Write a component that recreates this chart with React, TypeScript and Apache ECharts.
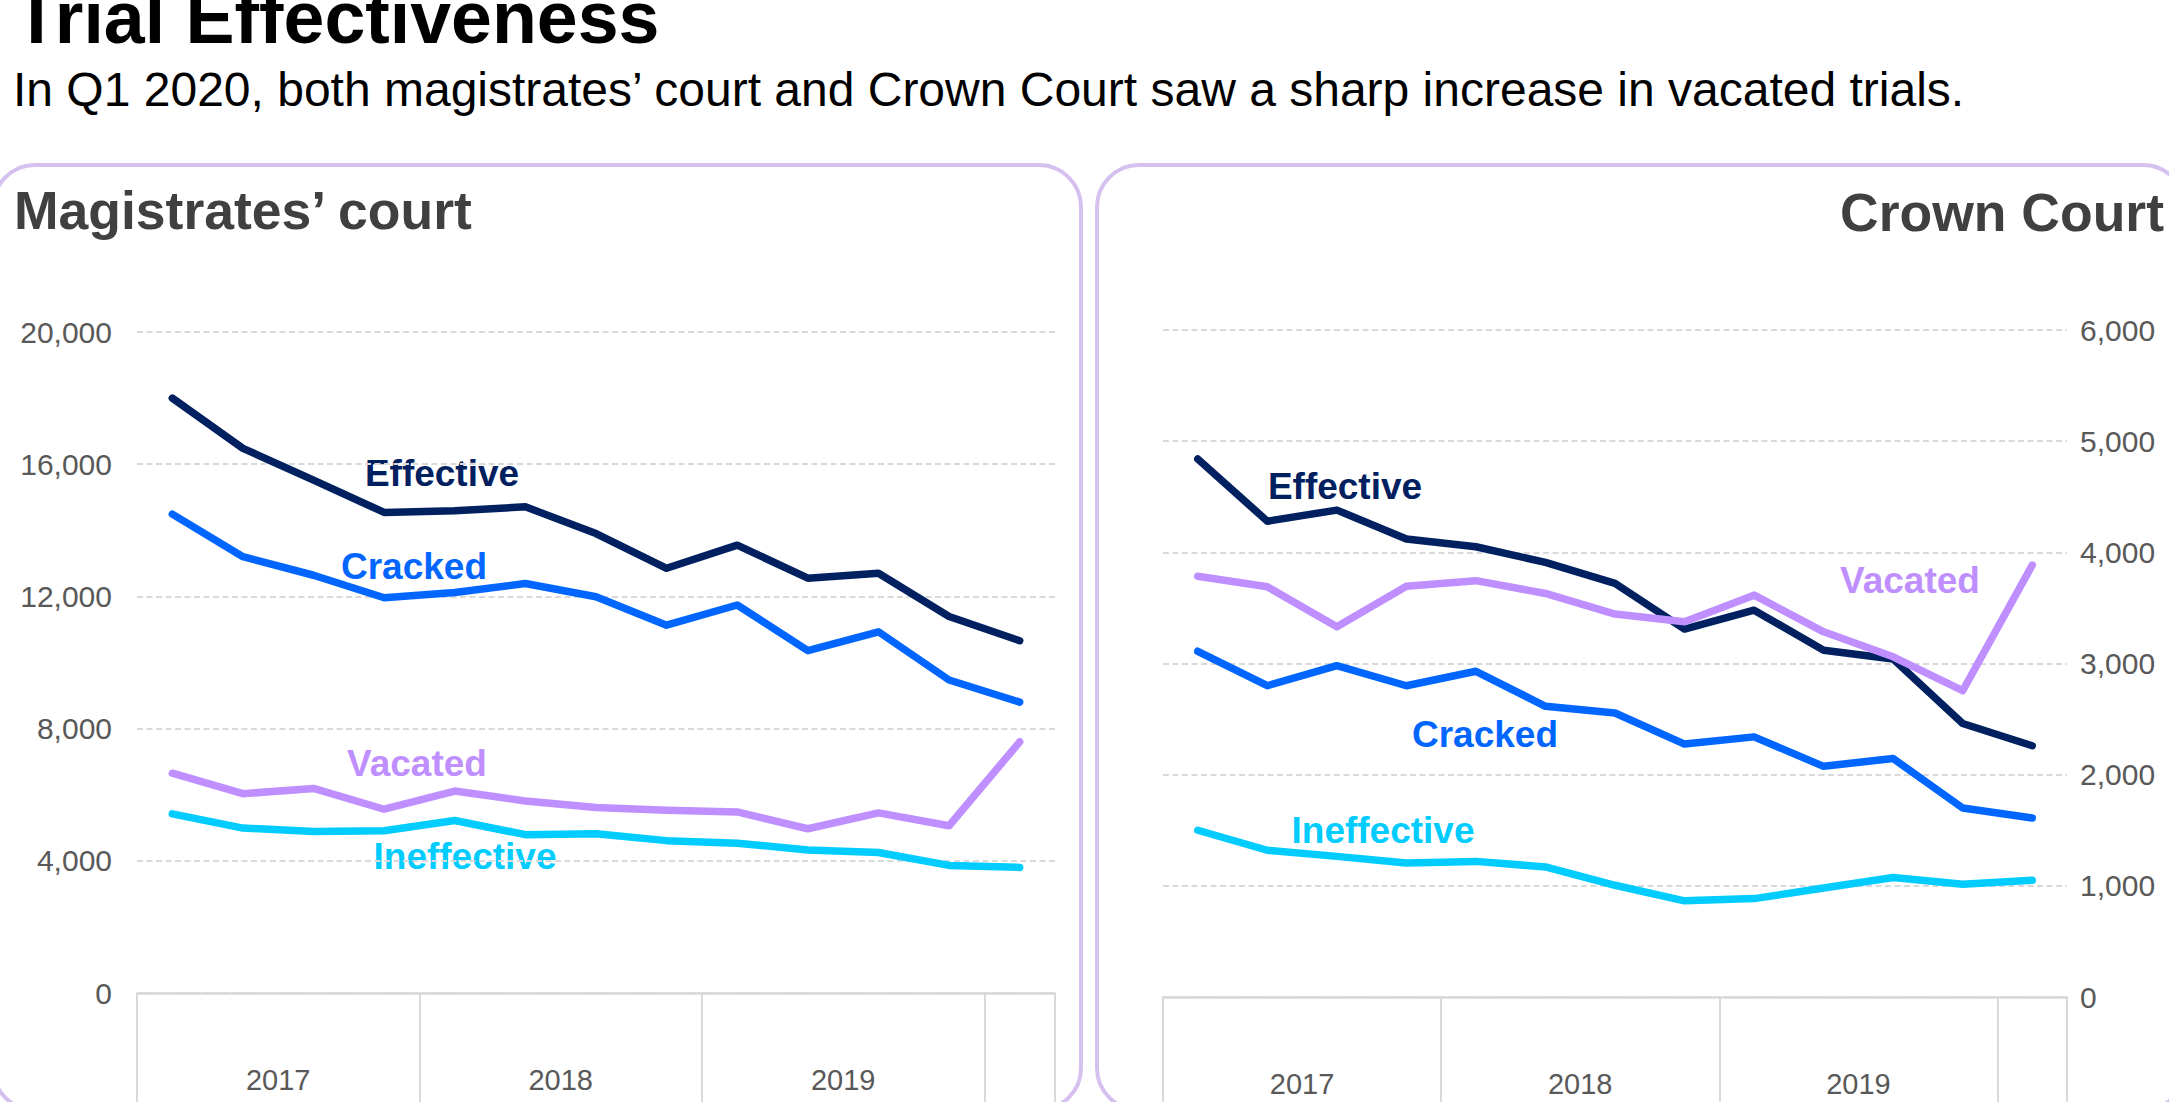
import React, { useEffect, useRef } from "react";
import * as echarts from "echarts";

const FONT = "'Liberation Sans', Arial, Helvetica, sans-serif";

const quarters = [
  "2017 Q1", "2017 Q2", "2017 Q3", "2017 Q4",
  "2018 Q1", "2018 Q2", "2018 Q3", "2018 Q4",
  "2019 Q1", "2019 Q2", "2019 Q3", "2019 Q4",
  "2020 Q1",
];
// year group labels, placed on quarter boundaries (0..13)
const yearLabels = ["", "", "2017", "", "", "", "2018", "", "", "", "2019", "", "", ""];

const magEffective = [18000, 16480, 15520, 14540, 14590, 14710, 13900, 12850, 13550, 12550, 12700, 11390, 10660];
const magCracked = [14490, 13200, 12640, 11960, 12120, 12390, 11990, 11130, 11740, 10360, 10930, 9470, 8800];
const magVacated = [6650, 6030, 6190, 5560, 6110, 5810, 5610, 5530, 5480, 4970, 5450, 5060, 7600];
const magIneffective = [5420, 4990, 4890, 4910, 5220, 4790, 4820, 4610, 4530, 4330, 4250, 3860, 3800];

const crownEffective = [4840, 4280, 4380, 4120, 4050, 3910, 3720, 3310, 3480, 3120, 3040, 2460, 2260];
const crownCracked = [3110, 2800, 2980, 2800, 2930, 2615, 2555, 2275, 2340, 2075, 2145, 1700, 1610];
const crownVacated = [3785, 3690, 3330, 3695, 3745, 3630, 3445, 3375, 3615, 3285, 3060, 2755, 3885];
const crownIneffective = [1500, 1320, 1265, 1205, 1220, 1170, 1005, 865, 885, 980, 1075, 1015, 1050];

const magAxis = { min: 0, max: 20000, interval: 4000 };
const crownAxis = { min: 0, max: 6000, interval: 1000 };

const COLORS = {
  Effective: "#002060",
  Cracked: "#0066ff",
  Vacated: "#bf8fff",
  Ineffective: "#00ccff",
};

const GRID_COLOR = "#d9d9d9";
const LABEL_COLOR = "#595959";
const PANEL_COLOR = "#d5c0ef";

function lineSeries(name: string, data: number[], xi: number, yi: number) {
  return {
    type: "line",
    name,
    data,
    xAxisIndex: xi,
    yAxisIndex: yi,
    showSymbol: false,
    symbol: "none",
    lineStyle: {
      color: (COLORS as any)[name],
      width: 7.5,
      cap: "round",
      join: "round",
    },
    silent: true,
  };
}

function tickAxis(gridIndex: number) {
  return {
    type: "category",
    gridIndex,
    data: quarters,
    position: "bottom",
    boundaryGap: true,
    axisLine: { show: true, lineStyle: { color: GRID_COLOR, width: 2.5 } },
    axisTick: {
      show: true,
      interval: (index: number) => index % 4 === 0,
      length: 110,
      lineStyle: { color: GRID_COLOR, width: 2 },
    },
    axisLabel: { show: false },
    splitLine: { show: false },
  };
}

function yearAxis(gridIndex: number) {
  return {
    type: "category",
    gridIndex,
    data: yearLabels,
    position: "bottom",
    boundaryGap: false,
    axisLine: { show: false },
    axisTick: { show: false },
    axisLabel: {
      show: true,
      interval: 0,
      margin: 72,
      fontSize: 29,
      fontFamily: FONT,
      color: LABEL_COLOR,
    },
    splitLine: { show: false },
  };
}

function valueAxis(
  gridIndex: number,
  cfg: { min: number; max: number; interval: number },
  position: string,
  margin: number
) {
  return {
    type: "value",
    gridIndex,
    position,
    min: cfg.min,
    max: cfg.max,
    interval: cfg.interval,
    axisLine: { show: false },
    axisTick: { show: false },
    axisLabel: {
      show: true,
      margin,
      fontSize: 30,
      fontFamily: FONT,
      color: LABEL_COLOR,
      formatter: (v: number) => v.toLocaleString("en-US"),
    },
    splitLine: {
      show: true,
      lineStyle: { color: GRID_COLOR, width: 2, type: [6, 3.5] },
    },
  };
}

function txt(text: string, x: number, y: number, size: number, color: string, weight: string, align = "center") {
  return {
    type: "text",
    x,
    y,
    silent: true,
    style: {
      text,
      fill: color,
      font: `${weight} ${size}px ${FONT}`,
      fontSize: size,
      fontWeight: weight,
      fontFamily: FONT,
      align,
      textAlign: align,
      verticalAlign: "middle",
      textVerticalAlign: "middle",
    },
  };
}

export default function App() {
  const ref = useRef<HTMLDivElement>(null);

  useEffect(() => {
    if (!ref.current) return;
    const chart = echarts.init(ref.current, null, { renderer: "svg" });
    const option = {
      animation: false,
      backgroundColor: "#ffffff",
      grid: [
        { left: 137, top: 332, width: 918, height: 661 },
        { left: 1163, top: 330, width: 904, height: 667 },
      ],
      xAxis: [tickAxis(0), yearAxis(0), tickAxis(1), yearAxis(1)],
      yAxis: [valueAxis(0, magAxis, "left", 25), valueAxis(1, crownAxis, "right", 13)],
      series: [
        lineSeries("Effective", magEffective, 0, 0),
        lineSeries("Cracked", magCracked, 0, 0),
        lineSeries("Ineffective", magIneffective, 0, 0),
        lineSeries("Vacated", magVacated, 0, 0),
        lineSeries("Effective", crownEffective, 2, 1),
        lineSeries("Cracked", crownCracked, 2, 1),
        lineSeries("Ineffective", crownIneffective, 2, 1),
        lineSeries("Vacated", crownVacated, 2, 1),
      ],
      graphic: [
        {
          type: "rect",
          silent: true,
          shape: { x: -7, y: 165, width: 1088, height: 945, r: 42 },
          style: { fill: "none", stroke: PANEL_COLOR, lineWidth: 4 },
        },
        {
          type: "rect",
          silent: true,
          shape: { x: 1097, y: 165, width: 1088, height: 945, r: 42 },
          style: { fill: "none", stroke: PANEL_COLOR, lineWidth: 4 },
        },
        txt("Trial Effectiveness", 14, 17.8, 73.5, "#000000", "bold", "left"),
        txt(
          "In Q1 2020, both magistrates\u2019 court and Crown Court saw a sharp increase in vacated trials.",
          13,
          89.4,
          48,
          "#000000",
          "normal",
          "left"
        ),
        txt("Magistrates\u2019 court", 14, 210.5, 53.5, "#404040", "bold", "left"),
        txt("Crown Court", 2164, 212.2, 53.5, "#404040", "bold", "right"),
        txt("Effective", 442, 473, 37, COLORS.Effective, "bold"),
        txt("Cracked", 414, 566, 37, COLORS.Cracked, "bold"),
        txt("Vacated", 417, 763, 37, COLORS.Vacated, "bold"),
        txt("Ineffective", 465, 856, 37, COLORS.Ineffective, "bold"),
        txt("Effective", 1345, 486, 37, COLORS.Effective, "bold"),
        txt("Vacated", 1910, 580, 37, COLORS.Vacated, "bold"),
        txt("Cracked", 1485, 734, 37, COLORS.Cracked, "bold"),
        txt("Ineffective", 1383, 830, 37, COLORS.Ineffective, "bold"),
      ],
    };
    chart.setOption(option as any);
    return () => {
      chart.dispose();
    };
  }, []);

  return (
    <div
      ref={ref}
      style={{ position: "fixed", left: 0, top: 0, width: 2169, height: 1102, background: "#ffffff" }}
    />
  );
}
